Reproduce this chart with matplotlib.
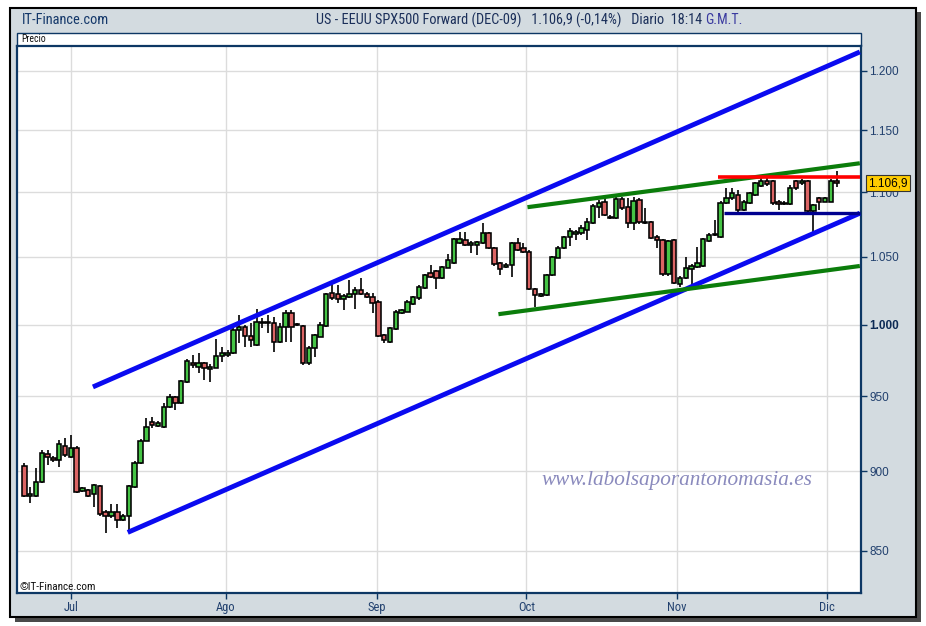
import numpy as np
import matplotlib
matplotlib.use("Agg")
import matplotlib.pyplot as plt
from matplotlib.patches import Rectangle
from matplotlib import font_manager
from matplotlib.ticker import FixedLocator, FixedFormatter, NullLocator
from matplotlib.transforms import blended_transform_factory

# ---------------- data (daily OHLC, index = session number) ----------------
opens = [
    903.6, 884.3, 884.1, 893.0, 911.4, 908.5, 907.4, 916.6, 909.6, 915.5,
    887.5, 888.1, 885.5, 890.9, 874.0, 871.3, 874.0, 869.2, 871.9, 890.2,
    905.2, 920.1, 932.6, 929.9, 929.0, 942.4, 949.2, 945.2, 959.9, 972.8,
    970.4, 973.2, 968.6, 969.7, 977.9, 978.6, 979.8, 996.3, 998.7, 992.0,
    985.6, 1001.1, 1001.8, 1001.1, 988.0, 998.7, 1008.7, 999.7, 999.2, 973.2,
    983.5, 991.5, 999.2, 1022.9, 1022.0, 1018.5, 1020.4, 1022.4, 1025.3, 1022.4,
    1020.4, 1016.8, 992.7, 988.0, 996.8, 1008.7, 1009.5, 1015.1, 1019.1, 1026.8,
    1037.6, 1039.4, 1034.0, 1041.8, 1045.1, 1060.5, 1062.8, 1059.0, 1059.0, 1060.3,
    1068.0, 1056.9, 1045.1, 1042.7, 1043.9, 1060.3, 1056.7, 1053.9, 1026.0, 1021.1,
    1021.6, 1036.4, 1049.4, 1056.9, 1064.9, 1067.2, 1068.0, 1070.5, 1075.6, 1088.6,
    1092.0, 1079.5, 1079.5, 1094.6, 1088.6, 1075.6, 1093.8, 1076.1, 1076.9, 1065.3,
    1062.8, 1036.9, 1062.8, 1029.7, 1034.2, 1040.9, 1042.4, 1043.1, 1062.3, 1066.3,
    1064.9, 1091.2, 1095.1, 1097.8, 1086.0, 1091.2, 1097.8, 1104.9, 1109.0, 1109.0,
    1092.5, 1090.7, 1090.7, 1109.0, 1107.0, 1109.0, 1085.4, 1095.1, 1092.5, 1092.5,
    1108.5]
highs = [
    905.6, 890.0, 902.1, 914.0, 914.0, 910.0, 920.6, 921.7, 923.9, 916.6,
    890.0, 888.7, 891.9, 891.3, 875.5, 879.3, 879.3, 873.0, 891.3, 906.7,
    921.3, 935.2, 936.1, 933.2, 945.4, 951.5, 950.1, 961.1, 975.8, 978.6,
    980.0, 973.7, 972.3, 989.7, 984.4, 982.1, 998.7, 1007.1, 999.9, 1001.1,
    1011.2, 1004.9, 1007.1, 1005.9, 1001.3, 1010.7, 1010.7, 1001.3, 999.9, 984.9,
    993.4, 1002.1, 1023.1, 1030.5, 1029.0, 1022.4, 1032.7, 1027.8, 1034.0, 1023.8,
    1023.1, 1018.0, 993.4, 998.5, 1010.7, 1011.4, 1018.0, 1020.9, 1029.0, 1037.1,
    1043.9, 1040.1, 1043.1, 1051.9, 1064.3, 1069.2, 1069.0, 1062.0, 1062.0, 1075.6,
    1069.0, 1057.5, 1046.1, 1045.3, 1061.3, 1064.3, 1060.5, 1055.2, 1026.8, 1023.1,
    1037.1, 1050.6, 1058.2, 1065.9, 1072.0, 1070.5, 1074.3, 1079.8, 1090.7, 1093.8,
    1096.2, 1082.1, 1096.2, 1096.2, 1095.4, 1096.2, 1095.4, 1087.8, 1077.4, 1066.7,
    1063.6, 1062.8, 1063.6, 1035.7, 1049.9, 1044.6, 1057.5, 1064.3, 1068.2, 1078.2,
    1093.0, 1103.0, 1103.0, 1101.7, 1093.8, 1100.1, 1108.0, 1113.6, 1111.2, 1109.6,
    1093.8, 1093.0, 1105.6, 1109.6, 1110.4, 1109.6, 1090.7, 1096.2, 1096.2, 1110.4,
    1117.0]
lows = [
    883.6, 879.7, 883.4, 892.6, 904.2, 906.1, 903.1, 909.4, 908.7, 886.2,
    886.8, 883.7, 877.4, 871.7, 861.0, 870.5, 864.2, 868.6, 862.0, 889.4,
    904.8, 919.9, 928.5, 929.2, 928.5, 942.0, 940.6, 944.7, 959.0, 969.3,
    966.0, 961.1, 959.9, 969.5, 973.9, 977.2, 979.3, 987.1, 984.4, 984.4,
    984.9, 997.7, 993.9, 980.9, 987.1, 988.0, 988.0, 999.2, 971.6, 971.6,
    977.4, 991.3, 998.5, 1018.0, 1015.8, 1010.7, 1019.5, 1011.2, 1021.6, 1019.5,
    1008.5, 991.3, 987.3, 987.1, 996.3, 1007.8, 1009.3, 1014.4, 1018.0, 1026.0,
    1034.2, 1026.0, 1033.4, 1041.6, 1044.6, 1059.7, 1058.2, 1052.9, 1051.4, 1059.7,
    1056.0, 1043.1, 1036.4, 1041.6, 1034.9, 1054.4, 1052.9, 1025.3, 1013.1, 1020.2,
    1020.9, 1035.7, 1049.1, 1056.0, 1058.2, 1062.8, 1066.7, 1062.8, 1075.1, 1079.5,
    1081.3, 1079.0, 1079.0, 1086.0, 1072.0, 1070.5, 1075.1, 1075.1, 1063.6, 1056.9,
    1035.7, 1035.7, 1029.7, 1027.5, 1033.4, 1027.8, 1041.6, 1042.4, 1061.3, 1065.9,
    1064.3, 1090.7, 1093.8, 1084.4, 1085.2, 1090.7, 1097.0, 1104.1, 1104.9, 1089.9,
    1086.0, 1089.9, 1089.9, 1101.7, 1105.6, 1084.4, 1069.2, 1086.0, 1092.2, 1092.2,
    1104.0]
closes = [
    884.1, 885.5, 893.4, 911.8, 909.4, 907.1, 917.8, 910.4, 915.5, 887.0,
    889.2, 884.3, 891.3, 872.8, 871.3, 874.0, 869.2, 871.9, 890.9, 905.6,
    920.1, 929.4, 930.3, 931.9, 942.4, 949.6, 945.2, 960.6, 974.6, 971.6,
    973.2, 969.3, 970.4, 977.9, 979.8, 980.2, 996.3, 998.7, 992.0, 989.2,
    1002.3, 1001.8, 1001.1, 988.0, 998.7, 1008.3, 998.7, 1000.4, 972.8, 983.5,
    992.7, 999.9, 1022.4, 1019.2, 1018.5, 1020.9, 1022.4, 1025.3, 1022.4, 1020.4,
    1016.0, 992.0, 989.2, 997.5, 1009.5, 1010.7, 1016.2, 1020.2, 1027.8, 1036.4,
    1035.1, 1034.0, 1042.6, 1047.6, 1063.6, 1063.6, 1059.0, 1060.5, 1061.3, 1068.0,
    1056.9, 1044.3, 1040.9, 1044.2, 1060.3, 1055.2, 1053.9, 1026.0, 1021.6, 1022.1,
    1036.4, 1050.1, 1056.9, 1065.3, 1069.7, 1069.2, 1071.8, 1076.9, 1089.4, 1091.2,
    1082.1, 1080.8, 1094.6, 1087.3, 1075.6, 1093.0, 1076.6, 1076.9, 1064.6, 1062.6,
    1036.9, 1062.0, 1030.8, 1034.4, 1041.4, 1043.1, 1045.1, 1063.3, 1066.7, 1067.0,
    1091.7, 1095.1, 1099.3, 1086.0, 1092.5, 1099.1, 1107.0, 1109.0, 1106.4, 1091.2,
    1090.7, 1091.7, 1103.0, 1103.0, 1109.0, 1085.4, 1089.9, 1092.5, 1095.1, 1108.5,
    1106.9]

month_labels = ["Jul", "Ago", "Sep", "Oct", "Nov", "Dic"]
month_pos = [8.0, 34.7, 60.7, 86.5, 112.5, 138.4]

ytick_values = [850, 900, 950, 1000, 1050, 1100, 1150, 1200]
ytick_labels = ["850", "900", "950", "1.000", "1.050", "1.100", "1.150", "1.200"]

last_price = 1106.9

# trend lines drawn on the chart (session index, price)
channel_upper_x = [11.8, 144.0]
channel_upper_y = [956.3, 1216.5]
channel_lower_x = [17.8, 144.0]
channel_lower_y = [861.4, 1083.4]
wedge_upper_x = [86.7, 144.0]
wedge_upper_y = [1088.1, 1123.0]
wedge_lower_x = [81.7, 144.0]
wedge_lower_y = [1007.6, 1043.1]
resist_x = [119.5, 144.0]
resist_y = [1111.6, 1111.6]
support_x = [120.6, 144.0]
support_y = [1083.4, 1083.4]

# ---------------- fonts ----------------
names = {f.name for f in font_manager.fontManager.ttflist}
NARROW = "Liberation Sans"
for cand in ["Liberation Sans Narrow", "Arial Narrow", "Roboto Condensed",
             "DejaVu Sans Condensed", "Open Sans Condensed"]:
    if cand in names:
        NARROW = cand
        break
SANS = "Liberation Sans"
SERIF = "Liberation Serif"

# ---------------- figure ----------------
W, H = 926, 626
fig = plt.figure(figsize=(W / 100, H / 100), dpi=100, facecolor="white")
renderer = fig.canvas.get_renderer()

def fx(px):
    return px / W

def fy(py):
    return 1 - py / H

def fit_width(txt, target_px, max_size):
    w = txt.get_window_extent(renderer).width
    if w > target_px:
        txt.set_fontsize(max_size * target_px / w)

NAVY = "#0d3764"
PANEL = "#d3dbe0"

# outer panel with shadow
fig.add_artist(Rectangle((fx(15), fy(622)), fx(921) - fx(15), fy(12) - fy(622),
                         transform=fig.transFigure, facecolor="#4a4a4a",
                         edgecolor="none", zorder=-3))
fig.add_artist(Rectangle((fx(10), fy(617)), fx(916) - fx(10), fy(8) - fy(617),
                         transform=fig.transFigure, facecolor=PANEL,
                         edgecolor="black", linewidth=1.5, zorder=-2))
# "Precio" strip
fig.add_artist(Rectangle((fx(17), fy(46)), fx(861) - fx(17), fy(33) - fy(46),
                         transform=fig.transFigure, facecolor="white",
                         edgecolor=NAVY, linewidth=1.0, zorder=-1))
t = fig.text(fx(21), fy(39.5), "Precio", fontsize=7, family=NARROW,
             color="#111111", ha="left", va="center")
fit_width(t, 30, 7)

# header
t = fig.text(fx(22), fy(20), "IT-Finance.com", fontsize=10.5, family=NARROW,
             color="#14386a", ha="left", va="center")
fit_width(t, 88, 10.5)
t = fig.text(fx(702), fy(20), "US - EEUU SPX500 Forward (DEC-09)   1.106,9 (-0,14%)   Diario  18:14",
             fontsize=10.5, family=NARROW, color="#1b2f5a", ha="right", va="center")
fit_width(t, 390, 10.5)
t = fig.text(fx(705), fy(20), "G.M.T.", fontsize=10.5, family=NARROW,
             color="#3a3aa0", ha="left", va="center")
fit_width(t, 37, 10.5)

# main axes
ax = fig.add_axes([fx(17), fy(593), fx(861) - fx(17), fy(46) - fy(593)])
ax.set_facecolor("white")

idx = np.arange(len(closes))
o = np.array(opens)
c = np.array(closes)
hi = np.array(highs)
lo = np.array(lows)
up = c >= o
bottoms = np.minimum(o, c)
heights = np.maximum(np.abs(c - o), 0.25)
colors = np.where(up, "#45c445", "#db6464")

ax.vlines(idx, lo, hi, color="black", linewidth=1.2, zorder=2)
ax.bar(idx, heights, bottom=bottoms, width=0.76, color=colors,
       edgecolor="black", linewidth=1.15, zorder=3)

# trend lines
ax.plot(channel_upper_x, channel_upper_y, color="#0a0af0", linewidth=3.5,
        solid_capstyle="butt", zorder=5)
ax.plot(channel_lower_x, channel_lower_y, color="#0a0af0", linewidth=3.5,
        solid_capstyle="butt", zorder=5)
ax.plot(wedge_upper_x, wedge_upper_y, color="#0b7d0b", linewidth=3.0,
        solid_capstyle="butt", zorder=5)
ax.plot(wedge_lower_x, wedge_lower_y, color="#0b7d0b", linewidth=3.0,
        solid_capstyle="butt", zorder=5)
ax.plot(resist_x, resist_y, color="#ff0000", linewidth=2.6,
        solid_capstyle="butt", zorder=5)
ax.plot(support_x, support_y, color="#00008f", linewidth=2.4,
        solid_capstyle="butt", zorder=5)

# scales
ax.set_yscale("log")
ax.set_ylim(824.7, 1221.7)
ax.set_xlim(-1.29, 144.2)
ax.yaxis.set_major_locator(FixedLocator(ytick_values))
ax.yaxis.set_major_formatter(FixedFormatter(ytick_labels))
ax.yaxis.set_minor_locator(NullLocator())
ax.xaxis.set_major_locator(FixedLocator(month_pos))
ax.xaxis.set_major_formatter(FixedFormatter(month_labels))
ax.xaxis.set_minor_locator(NullLocator())
ax.yaxis.tick_right()
ax.tick_params(axis="y", which="major", direction="out", length=4, width=1,
               color=NAVY, labelsize=8.5, labelcolor="#21406e", pad=2)
ax.tick_params(axis="x", which="major", direction="out", length=4, width=1,
               color=NAVY, labelsize=9, labelcolor="#21406e", pad=2)
for lab in ax.get_yticklabels():
    lab.set_family(SANS)
    if lab.get_text() == "1.000":
        lab.set_fontweight("bold")
        lab.set_color("#0d2a55")
for lab in ax.get_xticklabels():
    lab.set_family(NARROW)

ax.grid(True, which="major", color="#dcdcdc", linewidth=1.0, zorder=0)
ax.set_axisbelow(True)
for sp in ax.spines.values():
    sp.set_color(NAVY)
    sp.set_linewidth(1.6)

# last price label
lab_txt = f"{last_price:,.1f}".replace(",", "X").replace(".", ",").replace("X", ".")
trans = blended_transform_factory(ax.transAxes, ax.transData)
ax.text(1.0 + 7 / 844, last_price, lab_txt, transform=trans, ha="left",
        va="center", fontsize=8.5, family=SANS, color="black", clip_on=False,
        zorder=10,
        bbox=dict(boxstyle="square,pad=0.18", facecolor="#ffcc00",
                  edgecolor="#333333", linewidth=0.8))

# watermark and copyright
fig.text(fx(676.5), fy(480), "www.labolsaporantonomasia.es", fontsize=15.3,
         family=SERIF, style="italic", color="#8a8abd", ha="center", va="center")
t = fig.text(fx(19), fy(587), "©IT-Finance.com", fontsize=8, family=NARROW,
             color="#111111", ha="left", va="center")
fit_width(t, 84, 8)

fig.savefig("out.png", dpi=100, facecolor="white")
